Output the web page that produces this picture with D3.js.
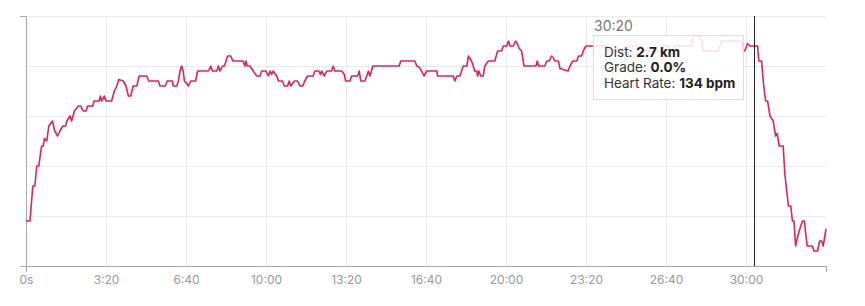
<!DOCTYPE html>
<html>
<head>
<meta charset="utf-8">
<script src="https://cdn.jsdelivr.net/npm/d3@7"></script>
<style>
  body { margin: 0; background: #fff; font-family: Inter, "Helvetica Neue", Arial, sans-serif; }
  #hr_chart svg { display: block; }
</style>
</head>
<body>
<div id="hr_chart"></div>
<script>
var times = [
    0, 10, 17, 22, 27, 32, 39, 43, 46, 52, 57, 66, 72, 79, 85, 92, 99, 102, 110, 114,
    121, 131, 137, 143, 150, 154, 167, 170, 183, 186, 189, 196, 200, 214, 221, 227, 232, 243, 250, 256,
    262, 268, 277, 283, 302, 307, 331, 335, 348, 353, 366, 368, 377, 381, 385, 389, 393, 396, 402, 406,
    412, 424, 429, 456, 462, 466, 477, 481, 485, 491, 496, 500, 504, 512, 517, 543, 547, 550, 553, 560,
    568, 577, 585, 589, 600, 606, 610, 614, 618, 627, 631, 641, 646, 654, 658, 662, 671, 679, 685, 692,
    697, 704, 718, 722, 732, 736, 739, 746, 752, 764, 768, 772, 789, 796, 799, 810, 814, 829, 833, 837,
    847, 852, 856, 860, 867, 933, 937, 972, 977, 983, 989, 995, 1002, 1027, 1029, 1068, 1072, 1077, 1085, 1089,
    1093, 1102, 1106, 1110, 1114, 1118, 1122, 1127, 1129, 1132, 1137, 1143, 1147, 1156, 1172, 1179, 1189, 1193, 1202, 1206,
    1210, 1218, 1224, 1228, 1233, 1239, 1245, 1275, 1278, 1282, 1297, 1302, 1308, 1314, 1318, 1322, 1331, 1335, 1355, 1360,
    1367, 1377, 1381, 1389, 1393, 1400, 1452, 1454, 1460, 1493, 1497, 1539, 1543, 1547, 1589, 1593, 1606, 1610, 1618, 1622,
    1664, 1668, 1685, 1689, 1693, 1731, 1735, 1739, 1789, 1793, 1797, 1804, 1810, 1829, 1832, 1839, 1843, 1849, 1854, 1860,
    1868, 1874, 1878, 1883, 1893, 1897, 1906, 1912, 1916, 1920, 1924, 1928, 1933, 1941, 1946, 1950, 1953, 1966, 1970, 1979,
    1984, 1989, 1993, 2000
];
var heartRate = [
    99, 99, 106, 106, 110, 110, 114, 114, 115.5, 115, 118, 119, 117, 116, 117, 118, 118, 119, 120, 119,
    121, 122, 122, 121, 121, 122, 122, 123, 123, 124, 123, 124, 123, 123, 125, 126, 127.3, 127, 126, 124,
    124, 126, 126, 128, 128, 127, 127, 126, 126, 127, 127, 126, 126, 127, 129, 130, 129, 127, 126.5, 126,
    127, 127, 129, 129, 130, 129, 129, 130, 129, 130, 130, 131, 132, 132, 131, 131, 130, 131, 130, 130,
    129, 128, 128, 129, 129, 128, 129, 128.3, 129, 128, 127, 127, 126, 126, 127, 126, 127, 127, 126, 126,
    127, 128, 128, 129, 129, 128.3, 129, 128, 129, 129, 130, 129, 129, 128.3, 127, 127, 128, 128, 129, 127,
    127, 128, 129, 128, 130, 130, 131, 131, 130, 129.8, 129, 128, 129, 129, 128, 128, 127, 128, 128, 129,
    130, 130, 132, 131.5, 131, 130, 129, 129, 128, 129, 128, 128, 130, 131, 131, 133, 133, 134, 134, 135,
    134, 134, 135, 134.5, 133.5, 133, 130, 130, 131, 130, 130, 131, 131, 132, 131.7, 131, 131, 129.5, 129, 130,
    131, 131, 132, 132, 133, 134, 134, 133.5, 133, 133, 134, 134, 133.5, 133, 133, 134, 134, 133.2, 133.2, 134,
    134, 136, 136, 135, 133, 133, 134, 135, 135, 133, 133, 134.5, 134, 134, 131, 131, 127, 123, 123, 120,
    119, 116, 116.5, 114, 114, 108.5, 102, 102, 99, 99, 94, 95.5, 97, 99, 99, 96, 94, 94, 93, 93,
    95, 95, 94, 97.4
];
var yTicks = [90, 100, 110, 120, 130, 140];
var xTicks = [0, 200, 400, 600, 800, 1000, 1200, 1400, 1600, 1800];

// hovered point shown in the tooltip
var hoverTime = 1820;
var hoverDist = "2.7 km";
var hoverGrade = "0.0%";

var margin = {top: 16, right: 39, bottom: 40, left: 26},
    width = 865 - margin.left - margin.right,
    height = 306 - margin.top - margin.bottom;

var data = times.map(function(t, i) { return {t: t, hr: heartRate[i]}; });

var svg = d3.select("#hr_chart")
    .append("svg")
    .attr("width", 865)
    .attr("height", 306)
    .append("g")
    .attr("transform", "translate(" + margin.left + "," + margin.top + ")");

var x = d3.scaleLinear().domain([0, 2000]).range([0, width]);
var y = d3.scaleLinear().domain([90, 140]).range([height, 0]);

function fmtTime(s) {
    if (s === 0) return "0s";
    var m = Math.floor(s / 60), sec = s % 60;
    return m + ":" + (sec < 10 ? "0" : "") + sec;
}

// grid lines
svg.append("g")
    .attr("class", "grid")
    .call(d3.axisLeft(y).tickValues(yTicks).tickSize(-width).tickFormat(""))
    .call(function(g) { g.select(".domain").remove(); })
    .selectAll("line").attr("stroke", "#ebebeb");

svg.append("g")
    .attr("class", "grid")
    .call(d3.axisBottom(x).tickValues(xTicks).tickSize(height).tickFormat(""))
    .call(function(g) { g.select(".domain").remove(); })
    .selectAll("line").attr("stroke", "#ebebeb");

// axes
var yAxis = svg.append("g")
    .call(d3.axisLeft(y).tickValues([]).tickSizeOuter(6));
yAxis.select(".domain").attr("stroke", "#a8a8a8");

var xAxis = svg.append("g")
    .attr("transform", "translate(0," + height + ")")
    .call(d3.axisBottom(x).tickValues(xTicks).tickFormat(fmtTime).tickSizeInner(0).tickSizeOuter(6).tickPadding(9));
xAxis.select(".domain").attr("stroke", "#a8a8a8");
xAxis.selectAll("text")
    .style("font-family", "Inter, 'Helvetica Neue', Arial, sans-serif")
    .style("font-size", "12px")
    .attr("fill", "#999");

// heart rate line
var line = d3.line()
    .x(function(d) { return x(d.t); })
    .y(function(d) { return y(d.hr); });

svg.append("path")
    .datum(data)
    .attr("fill", "none")
    .attr("stroke", "#e3215a")
    .attr("stroke-width", 1.6)
    .attr("stroke-linejoin", "round")
    .attr("d", line);

// hover cursor
var hx = Math.round(x(hoverTime)) + 0.5;
svg.append("line")
    .attr("x1", hx).attr("x2", hx)
    .attr("y1", 0).attr("y2", height)
    .attr("stroke", "#222")
    .attr("stroke-width", 1);

var bisect = d3.bisector(function(d) { return d.t; }).left;
var i = bisect(data, hoverTime);
var d0 = data[i - 1], d1 = data[i];
var hoverHr = Math.round(d0.hr + (d1.hr - d0.hr) * (hoverTime - d0.t) / (d1.t - d0.t));

// tooltip
var tip = svg.append("g")
    .attr("transform", "translate(567,19)");

tip.append("text")
    .attr("x", 1)
    .attr("y", -4)
    .style("font-size", "14px")
    .attr("fill", "#777")
    .text(fmtTime(hoverTime));

tip.append("rect")
    .attr("x", 0.5).attr("y", 0.5)
    .attr("width", 150).attr("height", 64)
    .attr("fill", "#fff")
    .attr("fill-opacity", 0.86)
    .attr("stroke", "#dcdcdc");

var rows = [
    ["Dist: ", hoverDist],
    ["Grade: ", hoverGrade],
    ["Heart Rate: ", hoverHr + " bpm"]
];

tip.selectAll(".tip_row")
    .data(rows)
    .enter()
    .append("text")
    .attr("class", "tip_row")
    .attr("x", 11)
    .attr("y", function(d, k) { return 21.5 + k * 15.5; })
    .style("font-size", "13.5px")
    .attr("fill", "#333")
    .each(function(d) {
        var t = d3.select(this);
        t.append("tspan").text(d[0]);
        t.append("tspan").style("font-weight", "700").attr("fill", "#222").text(d[1]);
    });
</script>
</body>
</html>
